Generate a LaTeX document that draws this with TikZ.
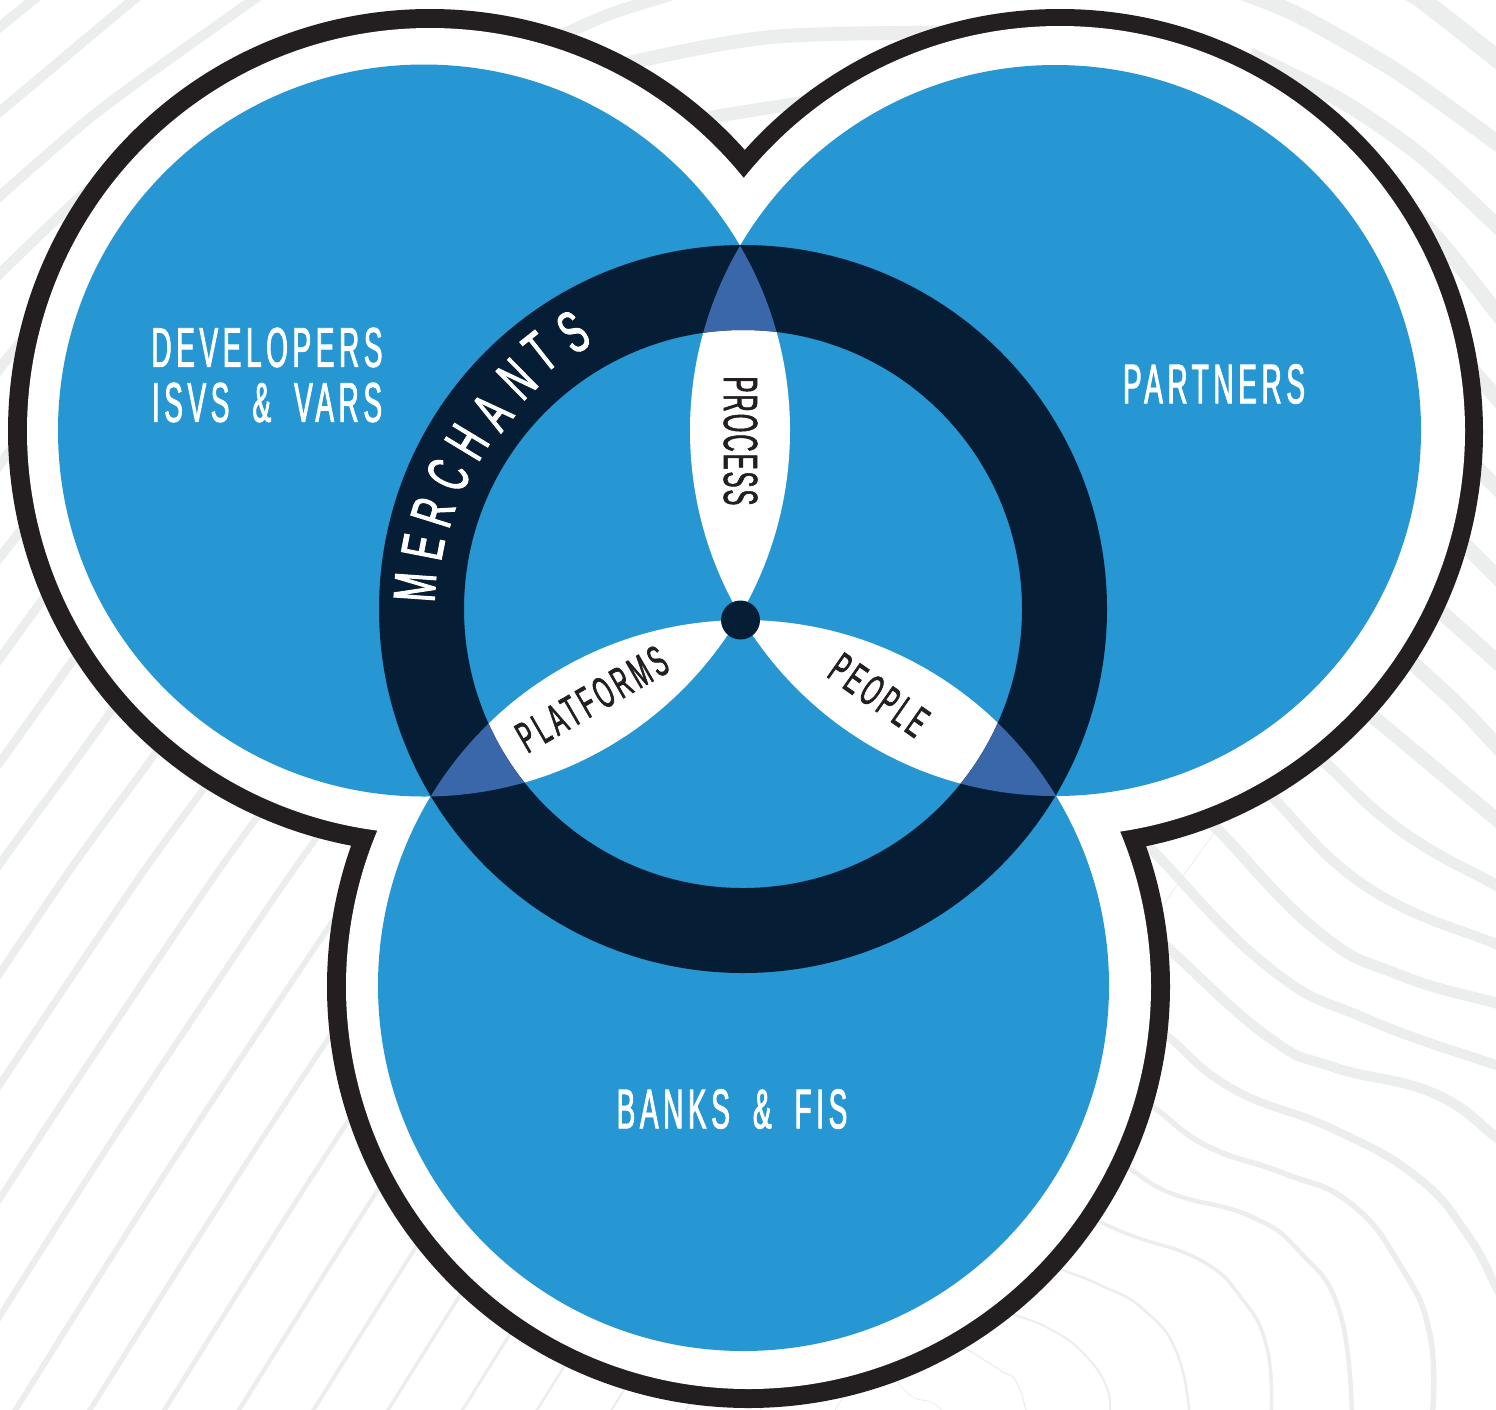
\documentclass[tikz,border=0pt]{standalone}
\usepackage{fontspec}
\setmainfont{Liberation Sans}
\newfontfamily\outerfont[FakeStretch=0.5,FakeBold=1.5,LetterSpace=8.2]{Liberation Sans}
\newfontfamily\ringfont[FakeStretch=0.58,FakeBold=1.8]{Liberation Sans}
\newfontfamily\innerfont[FakeStretch=0.5,FakeBold=1.5,LetterSpace=9.5]{Liberation Sans}
\newfontfamily\procfont[FakeStretch=0.5,FakeBold=1.2,LetterSpace=4]{Liberation Sans}
\definecolor{skyblue}{HTML}{2697D3}
\definecolor{navyring}{HTML}{061D36}
\definecolor{midblue}{HTML}{3A67AA}
\definecolor{outline}{HTML}{231F20}
\definecolor{contour}{HTML}{ECEEED}
\newcommand{\wsp}{\hspace{23pt}}
\tikzset{
  bgline/.style={draw=contour,line cap=butt,line join=round},
  outerlabel/.style={text=white,font=\outerfont\fontsize{56}{55}\selectfont,align=center,inner sep=0pt},
  petal/.style={text=outline,font=\innerfont\fontsize{44}{44}\selectfont,inner sep=0pt},
  ringletter/.style={text=white,font=\ringfont\fontsize{59}{59}\selectfont,inner sep=0pt}
}
\begin{document}
\begin{tikzpicture}[x=1pt,y=-1pt]
\useasboundingbox (0,0) rectangle (1496,1409);
\clip (0,0) rectangle (1496,1409);
\fill[white] (0,0) rectangle (1496,1409);

% ---- background contour lines, lower left family
\foreach \k in {-1,...,15}{
  \pgfmathsetmacro\b{63+74.5*\k}
  \pgfmathsetmacro\w{max(0.8,7.5-0.45*\k)}
  \draw[bgline,line width=\w pt] plot[smooth] coordinates {
    ({\b-358},1430) ({\b-245},1250) ({\b-148},1100) ({\b},880) ({\b+86},762) ({\b+160},659)};
}
\foreach \k in {-6,...,-2}{
  \pgfmathsetmacro\b{63+74.5*\k}
  \pgfmathsetmacro\w{7.5-0.45*\k}
  \draw[bgline,line width=\w pt] plot[smooth] coordinates {
    ({\b-148},1100) ({\b},880) ({\b+86},762) ({\b+160},659) ({\b+235},557) ({\b+309.5},464) ({\b+384},368) ({\b+458.5},275)};
}
% top left
\draw[bgline,line width=10pt] plot[smooth] coordinates {(-10,35) (33,0) (50,-12)};
\draw[bgline,line width=10pt] plot[smooth] coordinates {(-10,120) (133,0) (160,-18)};
\draw[bgline,line width=10pt] plot[smooth] coordinates {(-10,205) (100,110) (253,0) (280,-18)};
\draw[bgline,line width=10pt] plot[smooth] coordinates {(-10,283) (80,197) (150,140)};
% top middle
\draw[bgline,line width=12pt] plot[smooth] coordinates {(560,36) (610,14) (670,-5)};
\draw[bgline,line width=14pt] plot[smooth] coordinates {(590,80) (629,63) (771,37) (954,32) (1000,28)};
\draw[bgline,line width=13pt] plot[smooth] coordinates {(680,130) (708,118) (800,103) (830,98)};
% right, upper
\draw[bgline,line width=18pt] plot[smooth] coordinates {(1400,-12) (1422,0) (1496,58) (1510,70)};
\draw[bgline,line width=16pt] plot[smooth] coordinates {(1230,-12) (1296,14) (1396,71) (1496,142) (1510,152)};
\draw[bgline,line width=15pt] plot[smooth] coordinates {(1250,55) (1340,100) (1420,155) (1496,225) (1510,238)};
\draw[bgline,line width=15pt] plot[smooth] coordinates {(1400,200) (1443,245) (1496,312) (1510,330)};
\draw[bgline,line width=15pt] plot[smooth] coordinates {(1450,345) (1496,397) (1510,413)};
\draw[bgline,line width=15pt] plot[smooth] coordinates {(1450,440) (1496,487) (1510,501)};
\draw[bgline,line width=15pt] plot[smooth] coordinates {(1440,520) (1496,576) (1510,590)};
\draw[bgline,line width=15pt] plot[smooth] coordinates {(1400,575) (1496,661) (1510,674)};
\draw[bgline,line width=15pt] plot[smooth] coordinates {(1370,625) (1453,700) (1496,745) (1510,760)};
% right, lower
\draw[bgline,line width=14pt] plot[smooth,tension=0.8] coordinates {(1340,690) (1377,720) (1496,819) (1510,830)};
\draw[bgline,line width=11pt] plot[smooth,tension=0.8] coordinates {(1290,735) (1322,760) (1400,830) (1496,885) (1510,892)};
\draw[bgline,line width=10pt] plot[smooth,tension=0.8] coordinates {(1240,770) (1270,795) (1367,887) (1496,944) (1510,949)};
\draw[bgline,line width=11pt] plot[smooth,tension=0.8] coordinates {(1180,800) (1213,825) (1317,931) (1400,975) (1496,1003) (1510,1007)};
\draw[bgline,line width=10pt] plot[smooth,tension=0.8] coordinates {(1110,815) (1147,845) (1267,966) (1367,1019) (1496,1065) (1510,1069)};
\draw[bgline,line width=10pt] plot[smooth,tension=0.8] coordinates {(1130,915) (1168,948) (1267,1036) (1333,1067) (1433,1093) (1496,1137) (1510,1148)};
\draw[bgline,line width=8pt] plot[smooth,tension=0.8] coordinates {(1130,1010) (1167,1036) (1233,1089) (1333,1129) (1417,1177) (1467,1234) (1496,1287) (1505,1305)};
\draw[bgline,line width=5.5pt] plot[smooth,tension=0.8] coordinates {(1115,1085) (1153,1107) (1207,1146) (1283,1173) (1350,1203) (1400,1265) (1430,1335) (1432,1420)};
\draw[bgline,line width=4.5pt] plot[smooth,tension=0.8] coordinates {(1095,1150) (1128,1168) (1173,1194) (1250,1216) (1300,1252) (1340,1313) (1352,1420)};
\draw[bgline,line width=3.5pt] plot[smooth,tension=0.8] coordinates {(1065,1205) (1098,1221) (1133,1236) (1200,1260) (1240,1296) (1267,1348) (1271,1420)};
\draw[bgline,line width=2.5pt] plot[smooth,tension=0.8] coordinates {(1025,1255) (1060,1269) (1100,1285) (1143,1309) (1177,1353) (1190,1420)};
\draw[bgline,line width=2pt] plot[smooth,tension=0.8] coordinates {(985,1305) (1015,1315) (1050,1329) (1083,1353) (1107,1388) (1109,1420)};
\draw[bgline,line width=1.2pt] plot[smooth,tension=0.8] coordinates {(960,1345) (1000,1370) (1017,1383) (1028,1420)};
\draw[bgline,line width=0.8pt] plot[smooth,tension=0.8] coordinates {(880,1365) (897,1382) (913,1397) (933,1403) (945,1415)};

% ---- outline: union of three discs, in black and then in white
\fill[outline] (430,431) circle (422pt) (1060,432) circle (423pt) (748.5,986.5) circle (421.5pt);
\fill[white] (430,431) circle (403pt) (1060,431) circle (405pt) (748.5,986.5) circle (402.5pt);

% ---- blue discs and white petals
\fill[skyblue] (424,430.5) circle (366pt) (1055.5,430.5) circle (365.5pt) (743.5,985.5) circle (365.5pt);
\begin{scope}
  \clip (424,430.5) circle (366pt);
  \fill[white] (1055.5,430.5) circle (365.5pt);
  \fill[white] (743.5,985.5) circle (365.5pt);
\end{scope}
\begin{scope}
  \clip (1055.5,430.5) circle (365.5pt);
  \fill[white] (743.5,985.5) circle (365.5pt);
\end{scope}

% ---- ring
\fill[navyring,even odd rule] (743,609) circle (364pt) (743,609) circle (279pt);
\begin{scope}
  \clip (424,430.5) circle (366pt);
  \begin{scope}
    \clip (1055.5,430.5) circle (365.5pt);
    \fill[midblue,even odd rule] (743,609) circle (364pt) (743,609) circle (279pt);
  \end{scope}
  \begin{scope}
    \clip (743.5,985.5) circle (365.5pt);
    \fill[midblue,even odd rule] (743,609) circle (364pt) (743,609) circle (279pt);
  \end{scope}
\end{scope}
\begin{scope}
  \clip (1055.5,430.5) circle (365.5pt);
  \clip (743.5,985.5) circle (365.5pt);
  \fill[midblue,even odd rule] (743,609) circle (364pt) (743,609) circle (279pt);
\end{scope}

% ---- centre dot
\fill[navyring] (740.5,620) circle (19.5pt);

% ---- labels
\node[outerlabel] (devs) at (267,375) {DEVELOPERS\\ISVS\wsp\&\wsp VARS};
\node[outerlabel] (partners) at (1214,384) {PARTNERS};
\node[outerlabel] (banks) at (732,1109) {BANKS\wsp\&\wsp FIS};
\node[petal,font=\procfont\fontsize{48}{48}\selectfont,rotate=-90] (process) at (740.5,441) {PROCESS};
\node[petal,rotate=30] (platforms) at (592,699) {PLATFORMS};
\node[petal,rotate=-35] (people) at (879,695) {PEOPLE};

\foreach \ch/\px/\py/\r [count=\i] in {M/415/587/86,E/423/547/79,R/433/512/72.6,C/448/475/65.6,H/467/442/58.8,A/492/412/52,N/517/379/44.5,T/540/352/38.3,S/573/332/31.5}{
  \node[ringletter,rotate=\r] (merchants\i) at (\px,\py) {\ch};
}
\end{tikzpicture}
\end{document}
